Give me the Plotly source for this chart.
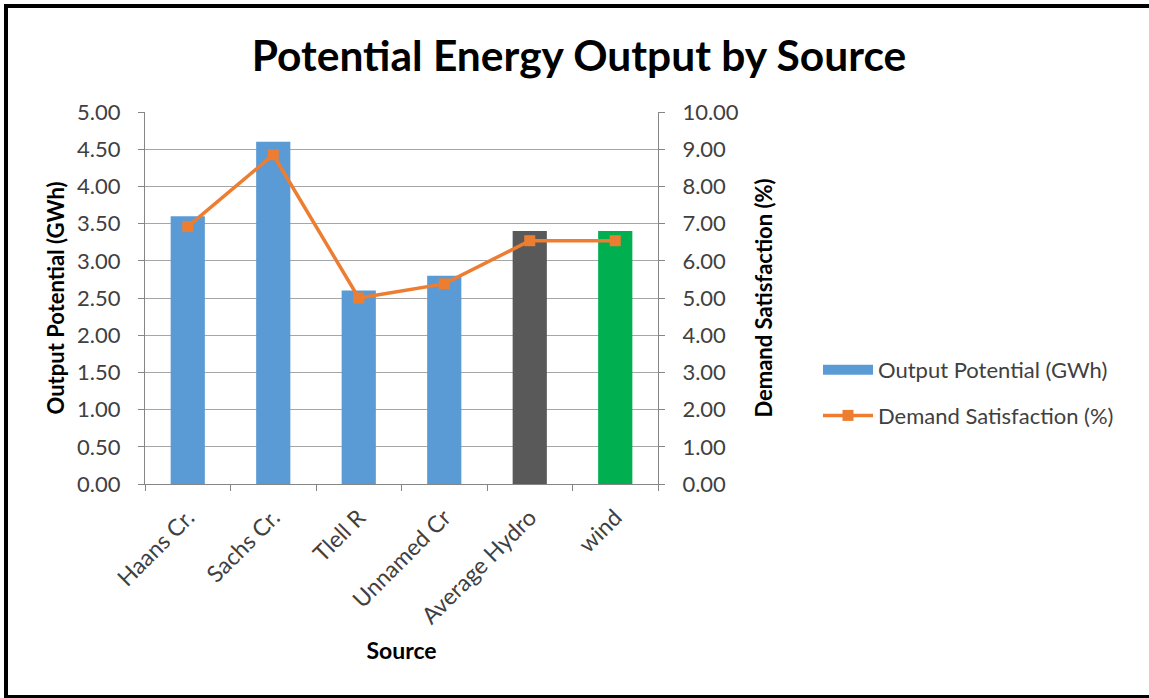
import plotly.graph_objects as go

# Sources and their values
sources = ["Haans Cr.", "Sachs Cr.", "Tlell R", "Unnamed Cr", "Average Hydro", "wind"]
output_gwh = [3.6, 4.6, 2.6, 2.8, 3.4, 3.4]
demand_pct = [6.92, 8.85, 5.00, 5.38, 6.54, 6.54]
bar_colors = ["#5B9BD5", "#5B9BD5", "#5B9BD5", "#5B9BD5", "#595959", "#00B050"]
left_ticks = [0, 0.5, 1, 1.5, 2, 2.5, 3, 3.5, 4, 4.5, 5]
right_ticks = [0, 1, 2, 3, 4, 5, 6, 7, 8, 9, 10]

W, H = 1149, 698
ML, MR, MT, MB = 145, 491, 112, 214
PW, PH = W - ML - MR, H - MT - MB

FONT = "Lato"
TXT = "#404040"
AXIS = "#868686"
GRID = "#A6A6A6"


def px_x(p):
    return (p - ML) / PW


def px_y(p):
    return (H - MB - p) / PH


fig = go.Figure()

fig.add_trace(go.Bar(
    x=sources, y=output_gwh, name="Output Potential (GWh)",
    marker=dict(color=bar_colors, line=dict(width=0)),
    yaxis="y", legendgroup="a", showlegend=False,
))
# legend swatch for the bar series, drawn as a wide band
fig.add_trace(go.Scatter(
    x=[None], y=[None], mode="lines", name="Output Potential (GWh)",
    line=dict(color="#5B9BD5", width=14), legendgroup="a",
))
fig.add_trace(go.Scatter(
    x=sources, y=demand_pct, name="Demand Satisfaction (%)", yaxis="y2",
    mode="lines+markers",
    line=dict(color="#ED7D31", width=3.5),
    marker=dict(symbol="square", size=11, color="#ED7D31"),
    legendgroup="b",
))

fig.update_layout(
    width=W, height=H,
    margin=dict(l=ML, r=MR, t=MT, b=MB),
    paper_bgcolor="white", plot_bgcolor="white",
    font=dict(family=FONT, size=22, color=TXT),
    bargap=0.6,
    title=dict(text="<b>Potential Energy Output by Source</b>",
               font=dict(family=FONT, size=42.5, color="black"),
               x=579 / W, xanchor="center", y=1 - 56 / H, yanchor="middle"),
    xaxis=dict(
        type="category", tickangle=-45, ticks="outside", tickson="boundaries",
        ticklen=6, tickcolor=AXIS, showline=True, linecolor=AXIS, linewidth=1,
        showgrid=False, ticklabelstandoff=10,
        tickfont=dict(family=FONT, size=23, color=TXT),
        title=dict(text="<b>Source</b>", font=dict(family=FONT, size=23, color="black"),
                   standoff=14),
    ),
    yaxis=dict(
        range=[0, 5], tickvals=left_ticks, tickformat=".2f",
        ticks="outside", ticklen=6, tickcolor=AXIS,
        showline=True, linecolor=AXIS, linewidth=1, ticklabelstandoff=13,
        showgrid=True, gridcolor=GRID, gridwidth=1, zeroline=False,
        title=dict(text="<b>Output Potential (GWh)</b>",
                   font=dict(family=FONT, size=22, color="black"), standoff=6),
    ),
    yaxis2=dict(
        range=[0, 10], tickvals=right_ticks, tickformat=".2f",
        overlaying="y", side="right",
        ticks="outside", ticklen=6, tickcolor=AXIS,
        showline=True, linecolor=AXIS, linewidth=1, ticklabelstandoff=13,
        showgrid=False, zeroline=False,
        title=dict(text="<b>Demand Satisfaction (%)</b>",
                   font=dict(family=FONT, size=22, color="black"), standoff=18),
    ),
    legend=dict(
        x=px_x(818), y=px_y(349), xanchor="left", yanchor="top",
        traceorder="grouped", tracegroupgap=14, itemwidth=50,
        font=dict(family=FONT, size=22, color=TXT),
        bgcolor="rgba(0,0,0,0)",
    ),
    shapes=[dict(
        type="rect", xref="paper", yref="paper",
        x0=px_x(6), x1=px_x(1170), y0=px_y(697), y1=px_y(6),
        line=dict(color="black", width=4), fillcolor="rgba(0,0,0,0)", layer="above",
    )],
)

fig.write_html("out.html")
